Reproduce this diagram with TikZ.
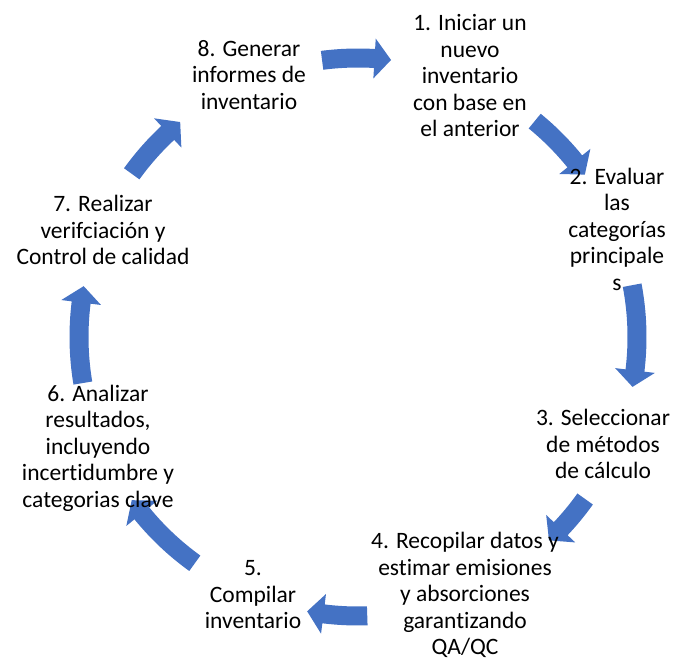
\documentclass[tikz,border=0pt]{standalone}
\usepackage{fontspec}
\setmainfont{Carlito}[Ligatures=NoCommon]
\definecolor{accent}{HTML}{4472C4}
\tikzset{
  steptext/.style={align=center, inner sep=0pt, font=\fontsize{23.5}{26.5}\selectfont, text=black},
}
% #1 start angle, #2 end (tip) angle
\newcommand{\cycarrow}[2]{%
  \pgfmathsetmacro\hb{#2-3.4*sign(#2-#1)}%
  \fill[accent] (#1:288.5) arc[start angle=#1, end angle=\hb, radius=288.5]
    -- (\hb:299) -- (#2:279) -- (\hb:259) -- (\hb:269.5)
    arc[start angle=\hb, end angle=#1, radius=269.5] -- cycle;%
}
\begin{document}
\begin{tikzpicture}[x=1pt,y=1pt]
\useasboundingbox (0,0) rectangle (687,659);
\coordinate (C) at (358,322);
\begin{scope}[shift={(C)}]
  \cycarrow{97.4}{83.2}
  \cycarrow{50.7}{35.6}
  \cycarrow{10.7}{-10.3}
  \cycarrow{-35.5}{-46.8}
  \cycarrow{-88.1}{-100.5}
  \cycarrow{-125.8}{-144.2}
  \cycarrow{189.5}{169.5}
  \cycarrow{144.2}{129.6}
\end{scope}
\node[steptext] (n1) at (470,659-76) {1. Iniciar un\\nuevo\\inventario\\con base en\\el anterior};
\node[steptext] (n2) at (617,659-229) {2. Evaluar\\las\\categorías\\principale\\s};
\node[steptext] (n3) at (603,659-444) {3. Seleccionar\\de métodos\\de cálculo};
\node[steptext] (n4) at (465,659-595) {4. Recopilar datos y\\estimar emisiones\\y absorciones\\garantizando\\QA/QC};
\node[steptext] (n5) at (253,659-595) {5.\\Compilar\\inventario};
\node[steptext] (n6) at (98,659-448) {6. Analizar\\resultados,\\incluyendo\\incertidumbre y\\categorias clave};
\node[steptext] (n7) at (103,659-230) {7. Realizar\\verifciación y\\Control de calidad};
\node[steptext] (n8) at (249,659-75) {8. Generar\\informes de\\inventario};
\end{tikzpicture}
\end{document}
